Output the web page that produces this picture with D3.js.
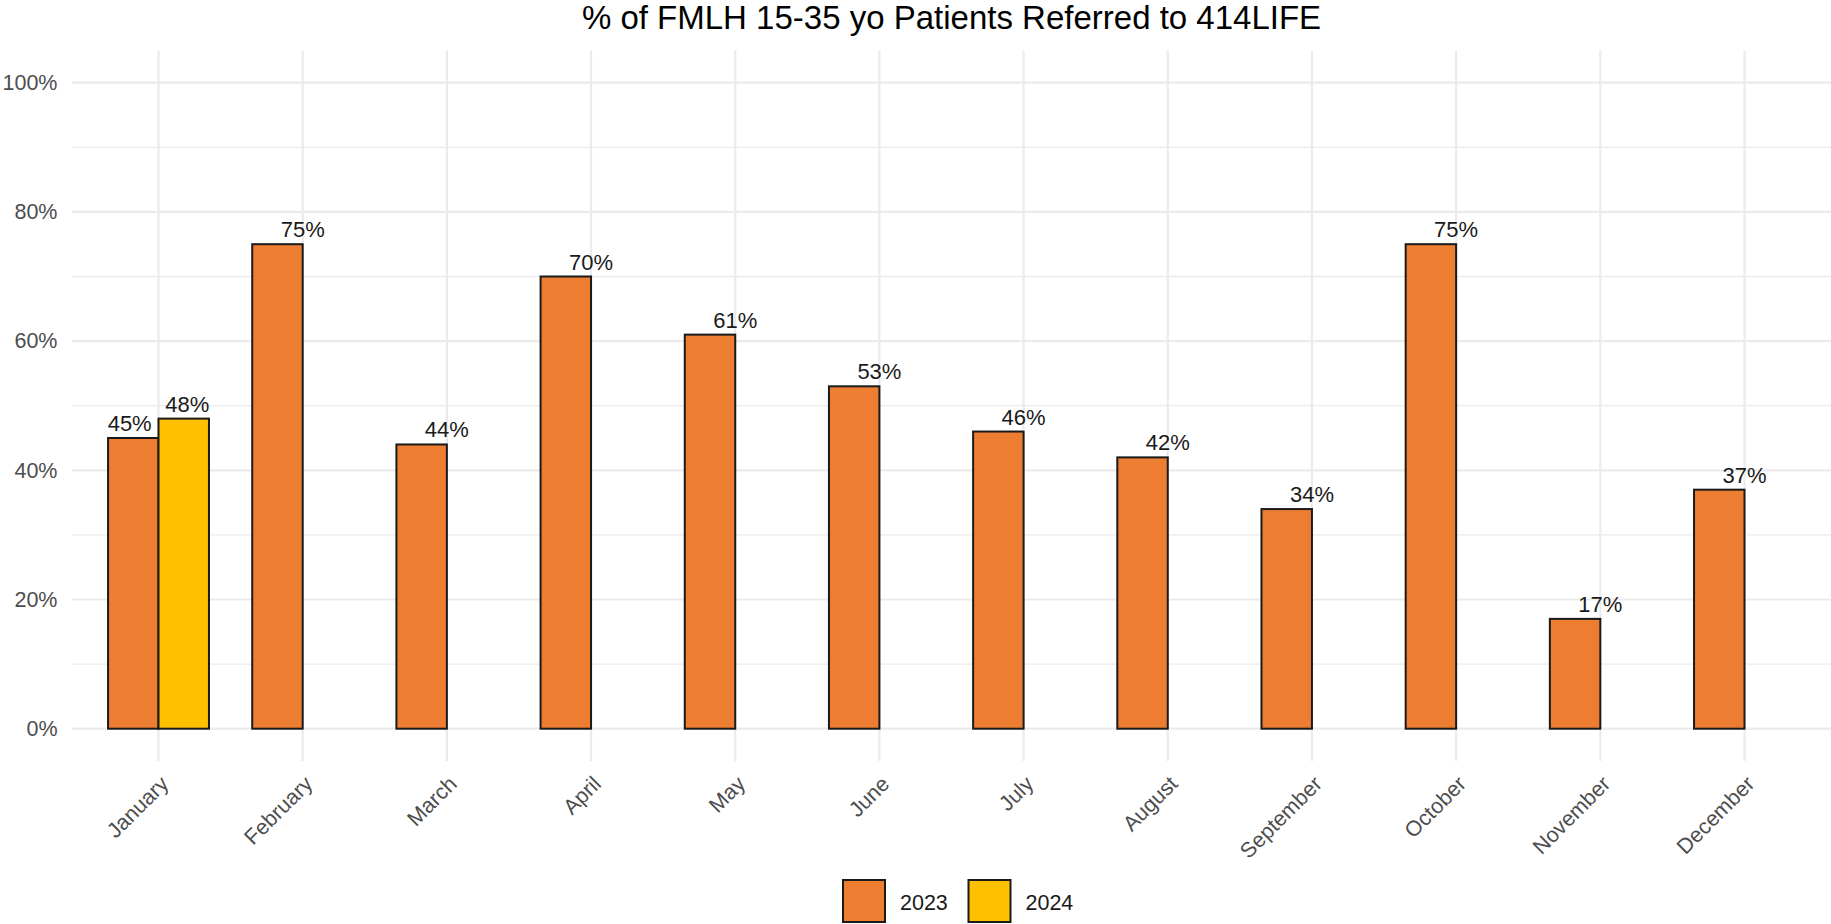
<!DOCTYPE html>
<html>
<head>
<meta charset="utf-8">
<script src="https://cdn.jsdelivr.net/npm/d3@7"></script>
<style>
  body { margin: 0; background: #fff; }
  svg { display: block; font-family: "Liberation Sans", Arial, sans-serif; }
</style>
</head>
<body>
<main></main>
<script>
var months = ["January", "February", "March", "April", "May", "June",
              "July", "August", "September", "October", "November", "December"]
var years = ["2023", "2024"]
var values2023 = [45, 75, 44, 70, 61, 53, 46, 42, 34, 75, 17, 37]
var values2024 = [48, null, null, null, null, null, null, null, null, null, null, null]
var majorTicks = [0, 20, 40, 60, 80, 100]
var minorTicks = [10, 30, 50, 70, 90]
var yearColors = ["#ED7D31", "#FFC000"]

var W = 1831, H = 924
// panel edges (window.top is read-only, so no plain "top")
var panelL = 72, panelR = 1831, panelT = 50.4, panelB = 761

// one row per bar, month groups only hold the years that exist
var bars = []
months.forEach(function(m, i){
  var present = []
  if (values2023[i] != null) present.push({year: "2023", value: values2023[i]})
  if (values2024[i] != null) present.push({year: "2024", value: values2024[i]})
  present.forEach(function(p, k){
    bars.push({month: m, year: p.year, value: p.value, k: k, n: present.length})
  })
})

var svg = d3.select("main")
    .append("svg")
    .attr("width", W)
    .attr("height", H)

var x = d3.scaleBand()
    .domain(months)
    .range([panelL, panelR])
    .paddingInner(0.3)
    .paddingOuter(0.25)

var xYear = d3.scaleBand()
    .domain(years)
    .range([0, x.bandwidth()])

var y = d3.scaleLinear()
    .domain([-5, 105])
    .range([panelB, panelT])

var color = d3.scaleOrdinal().domain(years).range(yearColors)

function center(m){ return x(m) + x.bandwidth() / 2 }

// grid
var grid = svg.append("g")
grid.selectAll(".minor").data(minorTicks)
  .enter().append("line")
    .attr("x1", panelL).attr("x2", panelR)
    .attr("y1", d => y(d)).attr("y2", d => y(d))
    .attr("stroke", "#EBEBEB").attr("stroke-width", 1.3)
grid.selectAll(".major").data(majorTicks)
  .enter().append("line")
    .attr("x1", panelL).attr("x2", panelR)
    .attr("y1", d => y(d)).attr("y2", d => y(d))
    .attr("stroke", "#EBEBEB").attr("stroke-width", 2.2)
grid.selectAll(".vert").data(months)
  .enter().append("line")
    .attr("x1", d => center(d)).attr("x2", d => center(d))
    .attr("y1", panelT).attr("y2", panelB)
    .attr("stroke", "#EBEBEB").attr("stroke-width", 2.2)

// bars: the dodge slot is kept for 2023 even where 2024 is missing
svg.append("g")
  .selectAll("rect").data(bars)
  .enter().append("rect")
    .attr("x", d => x(d.month) + xYear(d.year))
    .attr("width", xYear.bandwidth())
    .attr("y", d => y(d.value))
    .attr("height", d => y(0) - y(d.value))
    .attr("fill", d => color(d.year))
    .attr("stroke", "#1a1a1a")
    .attr("stroke-width", 2)

// value labels
svg.append("g")
  .selectAll("text").data(bars)
  .enter().append("text")
    .attr("x", d => center(d.month) + (d.k - (d.n - 1) / 2) * 0.4 * x.step())
    .attr("y", d => y(d.value) - 7)
    .attr("text-anchor", "middle")
    .attr("fill", "#1a1a1a")
    .style("font-size", "22px")
    .text(d => d.value + "%")

// y axis
var yAxis = svg.append("g")
    .attr("transform", "translate(" + panelL + ",0)")
    .call(d3.axisLeft(y).tickValues(majorTicks).tickSize(0).tickPadding(14.5)
          .tickFormat(d => d + "%"))
yAxis.select(".domain").remove()
yAxis.selectAll("text")
    .attr("fill", "#4D4D4D")
    .style("font-size", "21.5px")
    .style("font-family", "'Liberation Sans', Arial, sans-serif")

// x axis
var xAxis = svg.append("g")
    .attr("transform", "translate(0," + panelB + ")")
    .call(d3.axisBottom(x).tickSize(0))
xAxis.select(".domain").remove()
xAxis.selectAll("text")
    .attr("y", 0)
    .attr("dy", "0.74em")
    .attr("text-anchor", "end")
    .attr("transform", "translate(0,13) rotate(-45)")
    .attr("fill", "#4D4D4D")
    .style("font-size", "21.5px")
    .style("font-family", "'Liberation Sans', Arial, sans-serif")

// title
svg.append("text")
    .attr("x", (panelL + panelR) / 2)
    .attr("y", 29)
    .attr("text-anchor", "middle")
    .attr("fill", "#000")
    .style("font-size", "33px")
    .text("% of FMLH 15-35 yo Patients Referred to 414LIFE")

// legend
var legendX = [843, 968.5]
var legend = svg.append("g")
  .selectAll("g").data(years)
  .enter().append("g")
    .attr("transform", (d, i) => "translate(" + legendX[i] + ",880)")
legend.append("rect")
    .attr("width", 42).attr("height", 42)
    .attr("fill", d => color(d))
    .attr("stroke", "#1a1a1a")
    .attr("stroke-width", 2)
legend.append("text")
    .attr("x", 57)
    .attr("y", 29.5)
    .attr("fill", "#1a1a1a")
    .style("font-size", "21.5px")
    .text(d => d)
</script>
</body>
</html>
